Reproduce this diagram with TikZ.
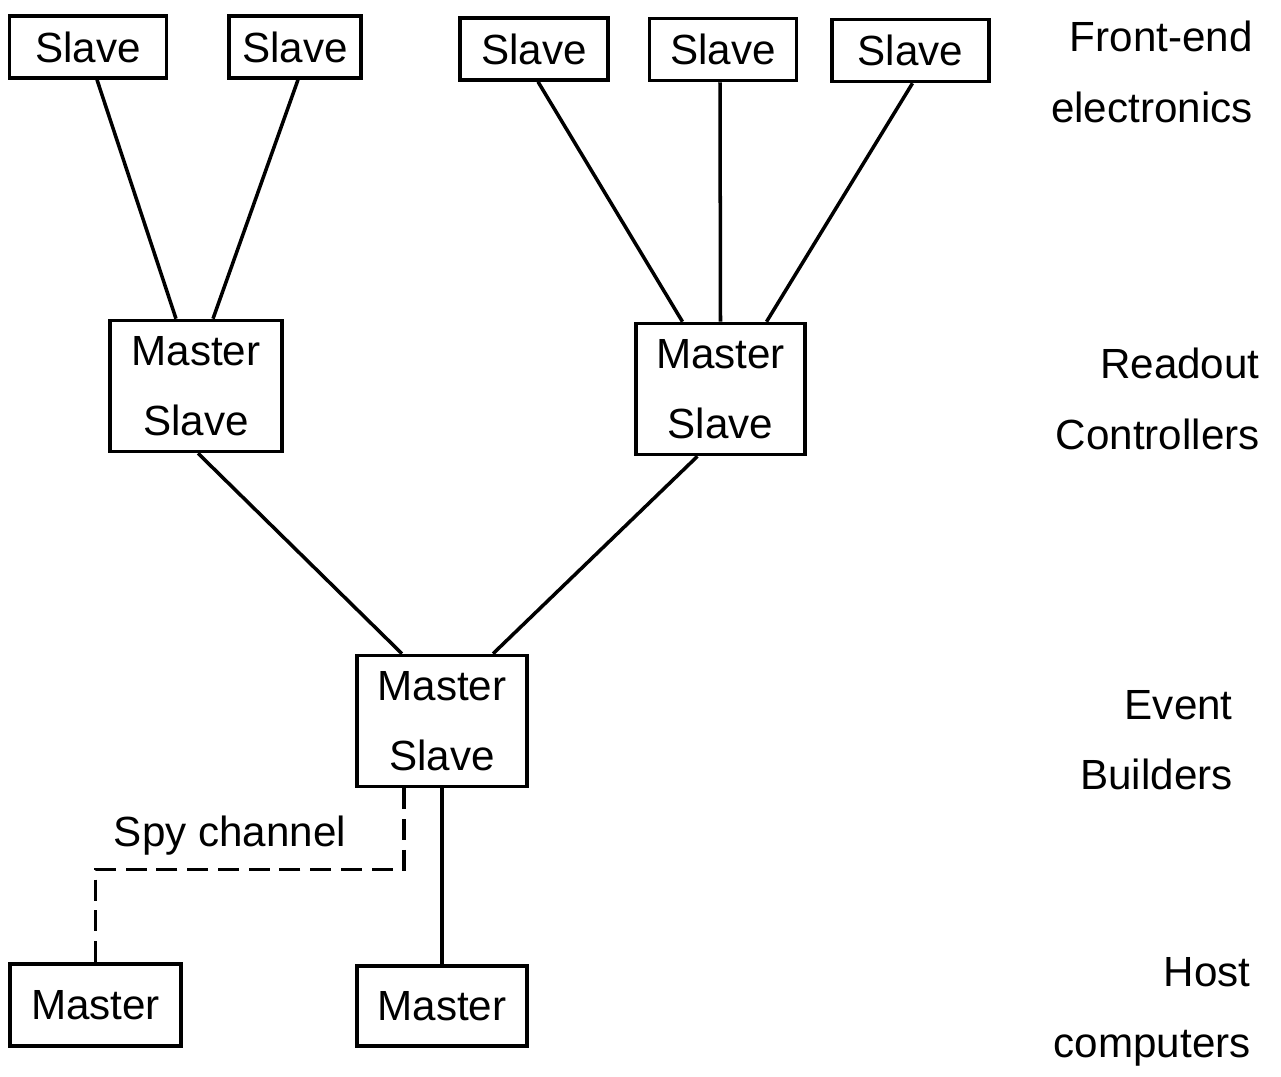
\documentclass[tikz,border=0pt]{standalone}
\usepackage{fontspec}
\setmainfont{Liberation Sans}
\usepackage{tikz}

\begin{document}
\begin{tikzpicture}[
  box/.style={draw, line width=2pt, inner sep=0pt, minimum height=1.24cm, font=\fontsize{24}{29}\selectfont},
  twobox/.style={draw, line width=2pt, inner sep=0pt, minimum height=2.62cm, align=center, font=\fontsize{24}{40}\selectfont},
  level/.style={anchor=east, align=right, inner sep=0pt, font=\fontsize{24}{40}\selectfont},
  link/.style={line width=2pt},
  spy/.style={line width=2pt, dash pattern=on 12pt off 5.5pt}
]
\useasboundingbox (0,0) rectangle (25.62,-21.54);

% front-end slaves
\node[box, minimum width=3.14cm] (s1) at (1.76,-0.94) {Slave};
\node[box, minimum width=2.64cm] (s2) at (5.90,-0.94) {Slave};
\node[box, minimum width=2.96cm] (s3) at (10.68,-0.98) {Slave};
\node[box, minimum width=2.94cm] (s4) at (14.46,-0.99) {Slave};
\node[box, minimum width=3.14cm] (s5) at (18.21,-1.01) {Slave};

% readout controllers
\node[twobox, minimum width=3.44cm] (rc1) at (3.92,-7.72) {Master\\Slave};
\node[twobox, minimum width=3.38cm] (rc2) at (14.41,-7.78) {Master\\Slave};

% event builder
\node[twobox, minimum width=3.40cm] (eb) at (8.84,-14.42) {Master\\Slave};

% hosts
\node[box, minimum width=3.42cm, minimum height=1.64cm] (h1) at (1.91,-20.10) {Master};
\node[box, minimum width=3.40cm, minimum height=1.60cm] (h2) at (8.84,-20.12) {Master};

\draw[link] ([xshift=0.18cm]s1.south) -- ([xshift=-0.40cm]rc1.north);
\draw[link] ([xshift=0.06cm]s2.south) -- ([xshift=0.34cm]rc1.north);
\draw[link] ([xshift=0.08cm]s3.south) -- ([xshift=-0.76cm]rc2.north);
\draw[link] ([xshift=-0.06cm]s4.south) -- (rc2.north);
\draw[link] ([xshift=0.04cm]s5.south) -- ([xshift=0.92cm]rc2.north);
\draw[link] ([xshift=0.04cm]rc1.south) -- ([xshift=-0.80cm]eb.north);
\draw[link] ([xshift=-0.46cm]rc2.south) -- ([xshift=1.02cm]eb.north);
\draw[link] (eb.south) -- (h2.north);

% spy channel
\draw[spy] ([xshift=-0.76cm]eb.south) -- ++(0,-1.62) -| (h1.north);
\node[font=\fontsize{24}{29}\selectfont, inner sep=0pt] (spylabel) at (4.60,-16.72) {Spy channel};

% levels
\node[level] (fe) at (25.06,-1.44) {Front-end\\electronics};
\node[level] (ro) at (25.20,-7.98) {Readout\\Controllers};
\node[level] (ev) at (24.66,-14.80) {Event\\Builders};
\node[level] (ho) at (25.02,-20.24) {Host\\computers};
\end{tikzpicture}
\end{document}
